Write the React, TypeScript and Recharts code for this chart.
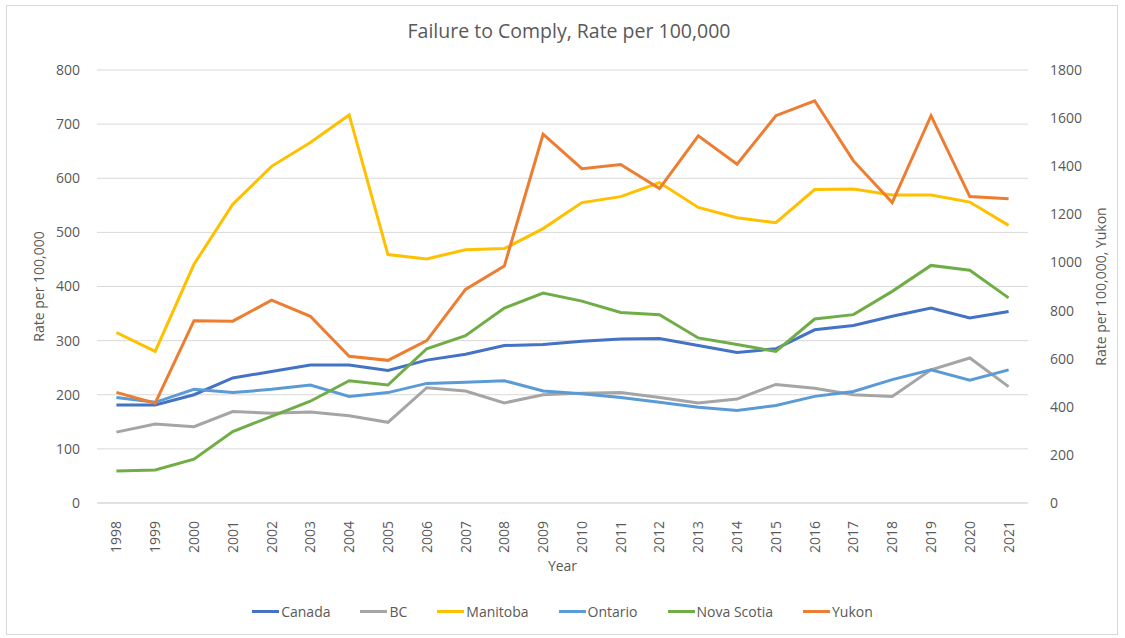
import React from "react"
import { LineChart, Line, XAxis, YAxis, CartesianGrid, Legend } from "recharts"

const years = ["1998", "1999", "2000", "2001", "2002", "2003", "2004", "2005", "2006", "2007", "2008", "2009", "2010", "2011", "2012", "2013", "2014", "2015", "2016", "2017", "2018", "2019", "2020", "2021"]

const canada = [181, 181, 200, 231, 243, 255, 255, 245, 264, 275, 291, 293, 299, 303, 304, 291, 278, 285, 320, 328, 345, 360, 342, 354]
const bc = [131, 146, 141, 169, 166, 168, 161, 149, 213, 207, 185, 200, 203, 204, 195, 185, 192, 219, 212, 200, 197, 246, 268, 215]
const manitoba = [315, 280, 441, 552, 622, 666, 717, 459, 451, 468, 470, 507, 555, 566, 592, 546, 527, 518, 579, 580, 569, 569, 556, 513]
const ontario = [195, 186, 210, 204, 210, 218, 197, 204, 221, 223, 226, 207, 202, 195, 186, 177, 171, 180, 197, 206, 228, 246, 227, 246]
const novaScotia = [59, 61, 81, 132, 160, 188, 226, 218, 285, 309, 360, 388, 373, 352, 348, 305, 293, 280, 340, 348, 391, 439, 430, 379]
const yukon = [460, 415, 758, 756, 843, 776, 610, 593, 675, 888, 985, 1533, 1390, 1407, 1307, 1526, 1408, 1610, 1672, 1422, 1249, 1610, 1274, 1265]

const leftTicks = [0, 100, 200, 300, 400, 500, 600, 700, 800]
const rightTicks = [0, 200, 400, 600, 800, 1000, 1200, 1400, 1600, 1800]

const series = [
  { key: "Canada", values: canada, color: "#4472C4", axis: "left" },
  { key: "BC", values: bc, color: "#A5A5A5", axis: "left" },
  { key: "Manitoba", values: manitoba, color: "#FFC000", axis: "left" },
  { key: "Ontario", values: ontario, color: "#5B9BD5", axis: "left" },
  { key: "Nova Scotia", values: novaScotia, color: "#70AD47", axis: "left" },
  { key: "Yukon", values: yukon, color: "#ED7D31", axis: "right" },
]

const data = years.map((year, i) => {
  const row: Record<string, string | number> = { year }
  series.forEach((s) => {
    row[s.key] = s.values[i]
  })
  return row
})

const FONT = "'Open Sans', sans-serif"
const TEXT = "#595959"

const YearTick = (props: any) => {
  const { x, y, payload } = props
  return (
    <text
      x={x + 5}
      y={y + 10}
      transform={`rotate(-90, ${x + 5}, ${y + 10})`}
      textAnchor="end"
      fontSize={14}
      fontFamily={FONT}
      fill={TEXT}
    >
      {payload.value}
    </text>
  )
}

// axis title placed at a fixed distance from the axis box's left edge
const SideLabel = ({ viewBox, shift, text }: any) => {
  const cx = viewBox.x + shift
  const cy = viewBox.y + viewBox.height / 2
  return (
    <text
      x={cx}
      y={cy}
      transform={`rotate(-90, ${cx}, ${cy})`}
      textAnchor="middle"
      dominantBaseline="central"
      fontSize={14}
      fontFamily={FONT}
      fill={TEXT}
    >
      {text}
    </text>
  )
}

const LegendContent = () => (
  <div
    style={{
      display: "flex",
      justifyContent: "center",
      alignItems: "center",
      height: 20,
      gap: 30,
      fontFamily: FONT,
      fontSize: 14,
      color: TEXT,
    }}
  >
    {series.map((s) => (
      <div key={s.key} style={{ display: "flex", alignItems: "center" }}>
        <span style={{ display: "inline-block", width: 27, height: 3, background: s.color, marginRight: 2 }} />
        <span>{s.key}</span>
      </div>
    ))}
  </div>
)

export default function App() {
  return (
    <div style={{ position: "absolute", left: 0, top: 0, width: 1125, height: 638, background: "#fff" }}>
      <div
        style={{
          position: "absolute",
          left: 6,
          top: 5,
          width: 1112,
          height: 630,
          border: "1px solid #d9d9d9",
          boxSizing: "border-box",
        }}
      />
      <div
        style={{
          position: "absolute",
          left: 0,
          top: 17,
          width: 1138,
          textAlign: "center",
          fontFamily: FONT,
          fontSize: 19.5,
          color: TEXT,
        }}
      >
        Failure to Comply, Rate per 100,000
      </div>
      <LineChart width={1125} height={638} data={data} margin={{ top: 70, right: 0, left: 0, bottom: 17 }}>
        <CartesianGrid vertical={false} stroke="#d9d9d9" strokeWidth={1} yAxisId="left" />
        <XAxis
          dataKey="year"
          interval={0}
          height={98}
          padding={{ left: 19.4, right: 19.4 }}
          axisLine={{ stroke: "#d9d9d9" }}
          tickLine={false}
          tick={<YearTick />}
          label={{ value: "Year", position: "insideBottom", offset: 30, fontSize: 14, fontFamily: FONT, fill: TEXT }}
        />
        <YAxis
          yAxisId="left"
          width={97}
          domain={[0, 800]}
          ticks={leftTicks}
          axisLine={false}
          tickLine={false}
          tickSize={0}
          tickMargin={17}
          tick={{ fontSize: 14, fontFamily: FONT, fill: TEXT }}
          label={<SideLabel shift={38} text="Rate per 100,000" />}
        />
        <YAxis
          yAxisId="right"
          orientation="right"
          width={97}
          domain={[0, 1800]}
          ticks={rightTicks}
          axisLine={false}
          tickLine={false}
          tickSize={0}
          tickMargin={22}
          tick={{ fontSize: 14, fontFamily: FONT, fill: TEXT, textAnchor: "start" }}
          label={<SideLabel shift={72} text="Rate per 100,000, Yukon" />}
        />
        {series.map((s) => (
          <Line
            key={s.key}
            yAxisId={s.axis}
            dataKey={s.key}
            stroke={s.color}
            strokeWidth={3}
            dot={false}
            activeDot={false}
            isAnimationActive={false}
          />
        ))}
        <Legend verticalAlign="bottom" content={<LegendContent />} />
      </LineChart>
    </div>
  )
}
